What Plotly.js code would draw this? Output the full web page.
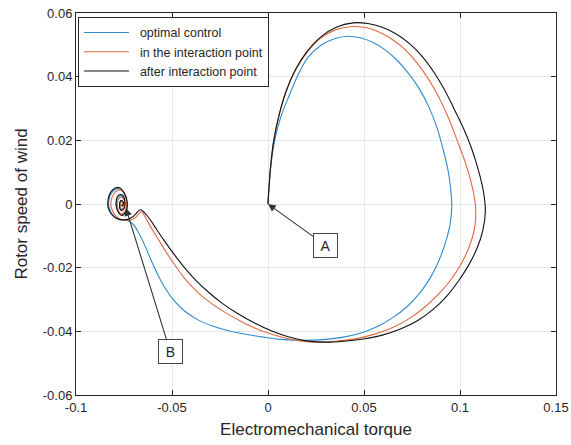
<!DOCTYPE html>
<html>
<head>
<meta charset="utf-8">
<script src="https://cdn.plot.ly/plotly-3.0.1.min.js"></script>
<style>html,body{margin:0;padding:0;background:#fff;}#chart{width:571px;height:445px;}</style>
</head>
<body>
<div id="chart"></div>
<script>
// Series names
const seriesNames = ["optimal control", "in the interaction point", "after interaction point"];

// Optimal control (blue)
const blueX = [0, 0.0005, 0.0015, 0.0035, 0.0065, 0.0110, 0.0160, 0.0210, 0.0280, 0.0350, 0.0415, 0.0480, 0.0545, 0.0610, 0.0675, 0.0735, 0.0790, 0.0840, 0.0880, 0.0912, 0.0938, 0.0952, 0.0957,
  0.0948, 0.0925, 0.0890, 0.0845, 0.0790, 0.0725, 0.0650, 0.0570, 0.0480, 0.0385, 0.0285, 0.0185, 0.0085, -0.0015, -0.0110, -0.0200, -0.0285, -0.0365, -0.0433, -0.0490, -0.0537, -0.0577, -0.0612, -0.0645, -0.0676, -0.0705, -0.0735,
  -0.0765, -0.0800, -0.0826, -0.0828, -0.0808, -0.0778, -0.0750, -0.0735, -0.0740, -0.0760, -0.0783, -0.0790, -0.0778, -0.0758, -0.0747, -0.0753, -0.0767, -0.0774, -0.0766, -0.0756, -0.0760, -0.0765];
const blueY = [0, 0.0050, 0.0120, 0.0200, 0.0270, 0.0340, 0.0410, 0.0462, 0.0500, 0.0520, 0.0527, 0.0522, 0.0508, 0.0484, 0.0450, 0.0408, 0.0360, 0.0302, 0.0240, 0.0172, 0.0105, 0.0045, -0.0010,
  -0.0065, -0.0120, -0.0178, -0.0232, -0.0280, -0.0322, -0.0357, -0.0385, -0.0406, -0.0419, -0.0426, -0.0428, -0.0426, -0.0419, -0.0410, -0.0399, -0.0384, -0.0364, -0.0337, -0.0303, -0.0263, -0.0218, -0.0172, -0.0126, -0.0088, -0.0062, -0.0052,
  -0.0050, -0.0040, -0.0015, 0.0015, 0.0040, 0.0049, 0.0034, 0.0005, -0.0022, -0.0034, -0.0020, 0.0005, 0.0024, 0.0024, 0.0005, -0.0014, -0.0017, -0.0002, 0.0011, 0.0003, -0.0006, -0.0002];

// In the interaction point (orange)
const orangeX = [0, 0.0005, 0.0014, 0.0030, 0.0058, 0.0095, 0.0145, 0.0205, 0.0275, 0.0350, 0.0427, 0.0500, 0.0570, 0.0640, 0.0710, 0.0775, 0.0835, 0.0890, 0.0940, 0.0985, 0.1025, 0.1058, 0.1080,
  0.1078, 0.1052, 0.1008, 0.0952, 0.0887, 0.0814, 0.0735, 0.0650, 0.0560, 0.0465, 0.0365, 0.0265, 0.0165, 0.0065, -0.0035, -0.0130, -0.0220, -0.0300, -0.0370, -0.0432, -0.0487, -0.0537, -0.0580, -0.0615, -0.0640, -0.0655, -0.0665, -0.0678, -0.0700,
  -0.0740, -0.0785, -0.0815, -0.0815, -0.0795, -0.0767, -0.0743, -0.0736, -0.0746, -0.0766, -0.0782, -0.0782, -0.0766, -0.0750, -0.0748, -0.0758, -0.0769, -0.0765, -0.0756, -0.0759];
const orangeY = [0, 0.0050, 0.0120, 0.0200, 0.0280, 0.0355, 0.0422, 0.0478, 0.0521, 0.0547, 0.0557, 0.0555, 0.0543, 0.0520, 0.0487, 0.0444, 0.0393, 0.0335, 0.0270, 0.0200, 0.0135, 0.0068, 0.0000,
  -0.0068, -0.0128, -0.0186, -0.0238, -0.0284, -0.0325, -0.0360, -0.0388, -0.0408, -0.0422, -0.0430, -0.0434, -0.0430, -0.0417, -0.0398, -0.0372, -0.0342, -0.0310, -0.0275, -0.0235, -0.0190, -0.0145, -0.0102, -0.0068, -0.0040, -0.0027, -0.0025, -0.0035, -0.0046,
  -0.0052, -0.0042, -0.0014, 0.0016, 0.0038, 0.0044, 0.0028, 0.0000, -0.0024, -0.0031, -0.0013, 0.0011, 0.0022, 0.0013, -0.0006, -0.0015, -0.0006, 0.0007, 0.0002, -0.0004];

// After interaction point (black)
const blackX = [0, 0.0005, 0.0014, 0.0030, 0.0058, 0.0095, 0.0145, 0.0205, 0.0275, 0.0355, 0.0443, 0.0520, 0.0595, 0.0670, 0.0740, 0.0805, 0.0865, 0.0920, 0.0970, 0.1018, 0.1060, 0.1095, 0.1122,
  0.1132, 0.1118, 0.1088, 0.1045, 0.0992, 0.0930, 0.0860, 0.0780, 0.0690, 0.0595, 0.0495, 0.0395, 0.0300, 0.0200, 0.0110, 0.0020, -0.0070, -0.0158, -0.0238, -0.0308, -0.0372, -0.0432, -0.0487, -0.0537, -0.0580, -0.0615, -0.0645, -0.0662, -0.0672, -0.0688, -0.0712,
  -0.0748, -0.0795, -0.0830, -0.0832, -0.0810, -0.0778, -0.0748, -0.0733, -0.0740, -0.0762, -0.0785, -0.0791, -0.0777, -0.0755, -0.0745, -0.0750, -0.0765, -0.0773, -0.0765, -0.0754, -0.0756, -0.0762];
const blackY = [0, 0.0050, 0.0120, 0.0200, 0.0280, 0.0355, 0.0425, 0.0480, 0.0525, 0.0555, 0.0569, 0.0567, 0.0555, 0.0533, 0.0502, 0.0462, 0.0413, 0.0358, 0.0298, 0.0238, 0.0175, 0.0108, 0.0040,
  -0.0025, -0.0085, -0.0140, -0.0192, -0.0242, -0.0290, -0.0331, -0.0366, -0.0393, -0.0412, -0.0424, -0.0431, -0.0434, -0.0430, -0.0418, -0.0399, -0.0374, -0.0344, -0.0312, -0.0278, -0.0242, -0.0202, -0.0160, -0.0118, -0.0080, -0.0048, -0.0026, -0.0018, -0.0020, -0.0031, -0.0043,
  -0.0050, -0.0043, -0.0016, 0.0017, 0.0044, 0.0052, 0.0034, 0.0003, -0.0025, -0.0036, -0.0020, 0.0007, 0.0028, 0.0026, 0.0006, -0.0015, -0.0020, -0.0004, 0.0011, 0.0006, -0.0006, -0.0003];

// Axis ticks
const xTickVals = [-0.1, -0.05, 0, 0.05, 0.1, 0.15];
const xTickText = ["-0.1", "-0.05", "0", "0.05", "0.1", "0.15"];
const yTickVals = [-0.06, -0.04, -0.02, 0, 0.02, 0.04, 0.06];
const yTickText = ["-0.06", "-0.04", "-0.02", "0", "0.02", "0.04", "0.06"];

// Annotation labels
const labelNames = ["A", "B"];
const labelTipX = [0, -0.0740];
const labelTipY = [0, -0.0013];
const labelBoxX = [0.0297, -0.0510];
const labelBoxY = [-0.0129, -0.0462];

const colors = ["#2f8acb", "#de6a3e", "#111111"];
const xs = [blueX, orangeX, blackX];
const ys = [blueY, orangeY, blackY];

const traces = xs.map((x, i) => ({
  x: x, y: ys[i], type: "scatter", mode: "lines", name: seriesNames[i],
  line: {color: colors[i], width: 1.1, shape: "spline", smoothing: 1}
}));

const font = "Liberation Sans, Arial, Helvetica, sans-serif";
const axisCommon = {
  ticks: "inside", ticklen: 5, tickcolor: "#262626", tickwidth: 1,
  showline: true, linecolor: "#262626", linewidth: 1, mirror: "ticks",
  showgrid: true, gridcolor: "#e6e6e6", gridwidth: 1, zeroline: false,
  tickfont: {family: font, size: 13, color: "#262626"},
  tickmode: "array"
};

const annotations = labelNames.map((t, i) => ({
  x: labelTipX[i], y: labelTipY[i], xref: "x", yref: "y",
  ax: labelBoxX[i], ay: labelBoxY[i], axref: "x", ayref: "y",
  text: t, showarrow: true, arrowhead: 2, arrowsize: 1.4, arrowwidth: 1.1, arrowcolor: "#333333",
  font: {family: font, size: 14, color: "#262626"},
  bordercolor: "#444444", borderwidth: 1, borderpad: 4, bgcolor: "#ffffff",
  width: 15, height: 15
}));

const layout = {
  width: 571, height: 445,
  margin: {l: 76, r: 15, t: 13, b: 50},
  paper_bgcolor: "#ffffff", plot_bgcolor: "#ffffff",
  font: {family: font, color: "#262626"},
  showlegend: true,
  legend: {
    x: 0.004, y: 0.99, xanchor: "left", yanchor: "top",
    bgcolor: "#ffffff", bordercolor: "#262626", borderwidth: 1,
    itemwidth: 51, tracegroupgap: 0,
    font: {family: font, size: 12.5, color: "#262626"}
  },
  xaxis: Object.assign({}, axisCommon, {
    range: [-0.1, 0.15], tickvals: xTickVals, ticktext: xTickText,
    title: {text: "Electromechanical torque", font: {family: font, size: 17, color: "#262626"}, standoff: 9}
  }),
  yaxis: Object.assign({}, axisCommon, {
    range: [-0.06, 0.06], tickvals: yTickVals, ticktext: yTickText,
    title: {text: "Rotor speed of wind", font: {family: font, size: 17, color: "#262626"}, standoff: 10}
  }),
  annotations: annotations
};

Plotly.newPlot("chart", traces, layout, {displayModeBar: false, staticPlot: true}).then(function () {
  // lengthen the legend line samples (MATLAB-style)
  document.querySelectorAll("#chart .legend .legendlines path").forEach(function (p) {
    p.setAttribute("d", "M5,0h45");
  });
});
</script>
</body>
</html>
